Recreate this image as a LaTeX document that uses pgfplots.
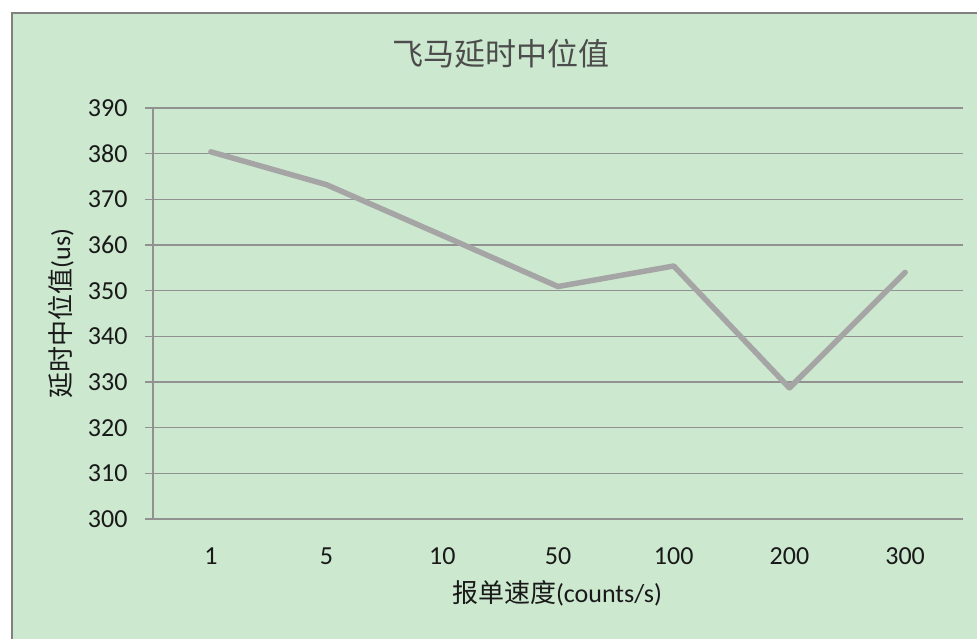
\documentclass[border=0pt]{standalone}
\usepackage{pgfplots}
\pgfplotsset{compat=1.18}
\usepackage{fontspec}
\setmainfont{Carlito}
\newfontfamily\cjk{Noto Sans CJK SC}
\definecolor{bg}{RGB}{204,232,207}
\definecolor{gridc}{RGB}{145,145,145}
\definecolor{linec}{RGB}{165,165,165}
\begin{document}
\begin{tikzpicture}[x=1pt,y=1pt]
\useasboundingbox (0,0) rectangle (977,639);
\fill[white] (0,0) rectangle (977,639);
\fill[bg] (12,-10) rectangle (990,626);
\draw[gray, line width=1.2pt] (12,-10) -- (12,626) -- (990,626);
\node[font=\cjk\fontsize{31}{36}\selectfont, text=black!70] at (501,585) {飞马延时中位值};
\begin{axis}[
  at={(153pt,120pt)}, anchor=south west,
  scale only axis, width=810pt, height=411pt,
  xmin=-0.5, xmax=6.5, ymin=300, ymax=390,
  xtick={0,...,6}, xticklabels={1,5,10,50,100,200,300},
  ytick={300,310,...,390},
  axis x line=bottom, axis y line=left,
  axis line style={draw=gridc, line width=1.2pt, -},
  ymajorgrids, grid style={draw=gridc, line width=1.2pt},
  major tick length=8pt, tick align=outside,
  xtick style={draw=none},
  ytick style={draw=gridc, line width=1.2pt},
  ticklabel style={font=\fontsize{26}{30}\selectfont, text=black!90},
  /pgf/number format/assume math mode=true,
  /pgf/number format/1000 sep={},
  xticklabel style={yshift=-17pt},
  yticklabel style={xshift=-14pt},
  xlabel={{\cjk 报单速度}(counts/s)},
  ylabel={{\cjk 延时中位值}(us)},
  label style={font=\fontsize{26}{30}\selectfont, text=black!90},
  xlabel style={at={(axis description cs:0.4988,-0.182)}, anchor=center},
  ylabel style={at={(axis description cs:-0.1136,0.5)}, anchor=center},
  clip=false,
]
\addplot[linec, line width=5.5pt, line cap=round, line join=round] coordinates {
  (0,380.4) (1,373.2) (2,362.1) (3,350.9) (4,355.4) (5,328.7) (6,354.0)
};
\end{axis}
\end{tikzpicture}
\end{document}
